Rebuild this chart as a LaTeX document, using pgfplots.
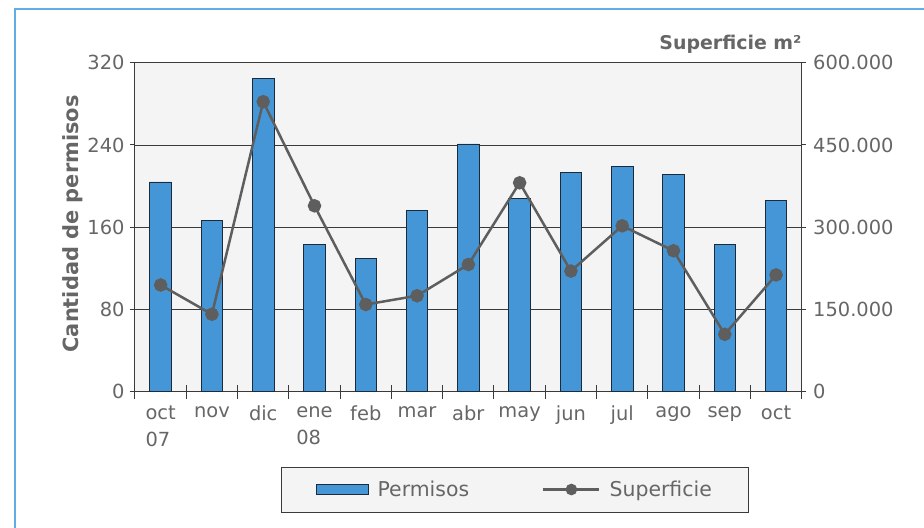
\documentclass[border=0pt]{standalone}
\usepackage{fontspec}
\setmainfont{DejaVu Sans}
\usepackage{pgfplots}
\pgfplotsset{compat=1.18}
\definecolor{barblue}{HTML}{4596D6}
\definecolor{baredge}{HTML}{1C2B3A}
\definecolor{linegray}{HTML}{5E5E5E}
\definecolor{txtgray}{HTML}{666666}
\definecolor{bggray}{HTML}{F4F4F4}
\definecolor{framebl}{HTML}{62AEE2}
\definecolor{gridc}{HTML}{3A3A3A}
\pgfplotsset{
  barlegend/.style={legend image code/.code={\draw[##1] (0bp,-5bp) rectangle (52bp,5bp);}},
  linelegend/.style={legend image code/.code={\draw[##1, mark repeat=2, mark phase=2, mark size=4.5bp] plot coordinates {(0bp,0bp) (28bp,0bp) (56bp,0bp)};}},
}
\begin{document}
\begin{tikzpicture}
\path[use as bounding box] (-135bp,-136.3bp) rectangle (789bp,391.7bp);
\draw[framebl, line width=1.5bp] (-120bp,-136.3bp) -- (-120bp,382.7bp) -- (789bp,382.7bp);
\begin{axis}[
  at={(0,0)}, anchor=south west,
  scale only axis, width=666.7bp, height=329bp,
  xmin=-0.5, xmax=12.5, ymin=0, ymax=320,
  axis background/.style={fill=bggray},
  axis line style={gridc, line width=1bp},
  xtick={0,...,12},
  xticklabels={oct\\07,nov,dic,ene\\08,feb,mar,abr,may,jun,jul,ago,sep,oct},
  xtick pos=bottom,
  major x tick style={draw=none},
  extra x ticks={-0.5,0.5,...,12.5},
  extra x tick labels={},
  extra x tick style={tick align=center, major tick length=14bp, major x tick style={draw=gridc, line width=1bp}, grid=none},
  ytick={0,80,...,320},
  ytick pos=left,
  tick align=outside,
  major tick length=5bp,
  tick style={gridc, line width=1bp},
  ymajorgrids,
  grid style={gridc, line width=0.8bp},
  /pgf/number format/assume math mode=true,
  tick label style={font=\fontsize{19.5}{27}\selectfont, text=txtgray},
  xticklabel style={align=left, yshift=-6bp},
  yticklabel style={xshift=-2bp},
  ylabel={Cantidad de permisos},
  ylabel style={font=\bfseries\fontsize{21}{24}\selectfont, text=txtgray, at={(axis description cs:-0.093,0.51)}, anchor=center},
]
\addplot[ybar, bar width=0.42, fill=barblue, draw=baredge, line width=0.8bp] coordinates {
(0,204) (1,167) (2,305) (3,143) (4,130) (5,176) (6,241) (7,188) (8,213) (9,219) (10,211) (11,143) (12,186)};
\end{axis}
\begin{axis}[
  at={(0,0)}, anchor=south west,
  scale only axis, width=666.7bp, height=329bp,
  xmin=-0.5, xmax=12.5, ymin=0, ymax=600000,
  axis x line=none,
  axis y line*=right,
  axis line style={gridc, line width=1bp},
  ytick={0,150000,300000,450000,600000},
  yticklabels={0,150.000,300.000,450.000,600.000},
  scaled y ticks=false,
  tick align=outside,
  major tick length=4bp,
  tick style={gridc, line width=1bp},
  tick label style={font=\fontsize{19.5}{27}\selectfont, text=txtgray},
  yticklabel style={xshift=4bp},
  legend columns=2,
  legend style={at={(axis description cs:0.5697,-0.2973)}, anchor=center,
    draw=gridc, line width=1bp, fill=bggray, font=\fontsize{20.5}{24}\selectfont, text=txtgray,
    inner xsep=34.5bp, inner ysep=12bp,
    /tikz/every odd column/.append style={column sep=7bp},
    /tikz/every even column/.append style={column sep=71bp}},
]
\addlegendimage{fill=barblue, draw=baredge, line width=0.8bp, barlegend}
\addlegendentry{Permisos}
\addplot[linegray, line width=2.5bp, mark=*, mark size=5.5bp, linelegend] coordinates {
(0,194600) (1,141200) (2,528900) (3,339000) (4,159000) (5,175000) (6,232000) (7,381000) (8,220000) (9,302500) (10,257000) (11,104700) (12,213000)};
\addlegendentry{Superficie}
\end{axis}
\node[anchor=base east, font=\bfseries\fontsize{19}{22}\selectfont, text=txtgray] at (670bp,341.7bp) {Superficie m²};
\end{tikzpicture}
\end{document}
